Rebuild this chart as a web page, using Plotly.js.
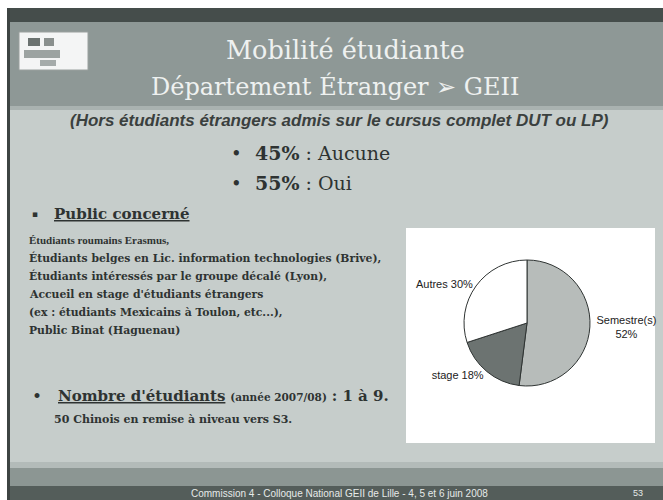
<!DOCTYPE html>
<html><head><meta charset="utf-8">
<script src="https://cdn.plot.ly/plotly-3.0.1.min.js"></script>
<style>html,body{margin:0;padding:0;background:#fff}#c{width:663px;height:500px}</style>
</head><body><div id="c"></div>
<script>
// Data
const categories = ["Semestre(s)", "stage", "Autres"];
const shares = [52, 18, 30];
const sliceColors = ["#b7bcba", "#6c7371", "#ffffff"];
const labelTemplates = ["%{label}<br>%{percent}", "%{label} %{percent}", "%{label} %{percent}"];

const W = 663, H = 500;
const px = x => x / W;
const py = y => 1 - y / H;

const serif = "DejaVu Serif, Liberation Serif, serif";
const narrowSerif = "Liberation Serif, serif";
const sans = "Liberation Sans, Arial, sans-serif";

function rect(x0, y0, x1, y1, color, line) {
  return {type: "rect", xref: "paper", yref: "paper", x0: px(x0), x1: px(x1), y0: py(y1), y1: py(y0),
          fillcolor: color, line: line || {width: 0}, layer: "below"};
}
function txt(x, y, text, size, opts) {
  opts = opts || {};
  return Object.assign({xref: "paper", yref: "paper", x: px(x), y: py(y), text: text, showarrow: false,
    xanchor: "left", yanchor: "middle", font: {family: serif, size: size, color: "#2e3332"}}, opts);
}

const shapes = [
  rect(0, 0, 663, 500, "#ffffff"),
  rect(7, 8, 663, 500, "#c6cdcb"),
  rect(7, 8, 663, 22, "#454d4b"),
  rect(7, 22, 663, 106, "#8e9896"),
  rect(7, 106, 663, 110, "#a9b2b0"),
  rect(7, 462, 663, 468, "#b3bbb9"),
  rect(7, 468, 663, 486, "#8c9693"),
  rect(7, 486, 663, 500, "#545d5a"),
  rect(7, 8, 10, 500, "#3d4442"),
  // logo
  rect(19, 32, 88, 70, "#f4f5f5", {color: "#9aa09e", width: 1}),
  rect(28, 38, 40, 46, "#6b7270"), rect(44, 38, 54, 46, "#8a908e"),
  rect(24, 50, 60, 58, "#9ca3a1"), rect(40, 60, 56, 66, "#a5abaa"),
  // chart box
  rect(406, 228, 655, 443, "#ffffff")
];

const annotations = [
  txt(345, 50, "Mobilité étudiante", 25.5, {xanchor: "center", font: {family: serif, size: 25.5, color: "#eef1f0"}}),
  txt(335, 87, "Département Étranger ➢ GEII", 24, {xanchor: "center", font: {family: serif, size: 24, color: "#eef1f0"}}),
  txt(340, 120, "<b><i>(Hors étudiants étrangers admis sur le cursus complet DUT ou LP)</i></b>", 17,
      {xanchor: "center", font: {family: sans, size: 17, color: "#3a403e"}}),
  txt(229, 153, "•", 18),
  txt(253, 153, "<b>45%</b> : Aucune", 19),
  txt(229, 183, "•", 18),
  txt(253, 183, "<b>55%</b> : Oui", 19),
  txt(30, 214, "▪", 9),
  txt(52, 214, "<b><span style='text-decoration:underline'>Public concerné</span></b>", 15),
  txt(27, 240, "<b>Étudiants roumains Erasmus,</b>", 11, {font: {family: narrowSerif, size: 11, color: "#2e3332"}}),
  txt(27, 258, "<b>Étudiants belges en Lic. information technologies (Brive),</b>", 10.8),
  txt(27, 276, "<b>Étudiants intéressés par le groupe décalé (Lyon),</b>", 10.8),
  txt(27, 294, "<b>Accueil en stage d'étudiants étrangers</b>", 10.8),
  txt(27, 312, "<b>(ex : étudiants Mexicains à Toulon, etc...),</b>", 10.8),
  txt(27, 330, "<b>Public Binat (Haguenau)</b>", 10.8),
  txt(30, 396, "•", 17),
  txt(56, 396, "<b><span style='text-decoration:underline'>Nombre d'étudiants</span></b> <span style='font-size:10.5px'><b>(année 2007/08)</b></span> <b>: 1 à 9.</b>", 15),
  txt(52, 419, "<b>50 Chinois en remise à niveau vers S3.</b>", 11),
  txt(340, 493, "Commission 4 - Colloque National GEII de Lille - 4, 5 et 6 juin 2008", 10,
      {xanchor: "center", font: {family: sans, size: 10, color: "#e6eae9"}}),
  txt(638, 493, "53", 9, {xanchor: "center", font: {family: sans, size: 9, color: "#e6eae9"}})
];

const trace = {
  type: "pie",
  labels: categories,
  values: shares,
  sort: false,
  direction: "clockwise",
  rotation: 0,
  marker: {colors: sliceColors, line: {color: "#2f3433", width: 1}},
  texttemplate: labelTemplates,
  textinfo: "label+percent",
  textposition: "outside",
  automargin: false,
  outsidetextfont: {family: sans, size: 11, color: "#222"},
  hoverinfo: "label+percent",
  domain: {x: [px(527 - 63), px(527 + 63)], y: [py(323 + 64), py(323 - 64)]},
  showlegend: false
};

Plotly.newPlot("c", [trace], {
  width: W, height: H,
  margin: {l: 0, r: 0, t: 0, b: 0},
  paper_bgcolor: "#ffffff",
  plot_bgcolor: "rgba(0,0,0,0)",
  shapes: shapes,
  annotations: annotations,
  showlegend: false
}, {displayModeBar: false, staticPlot: true});
</script></body></html>
